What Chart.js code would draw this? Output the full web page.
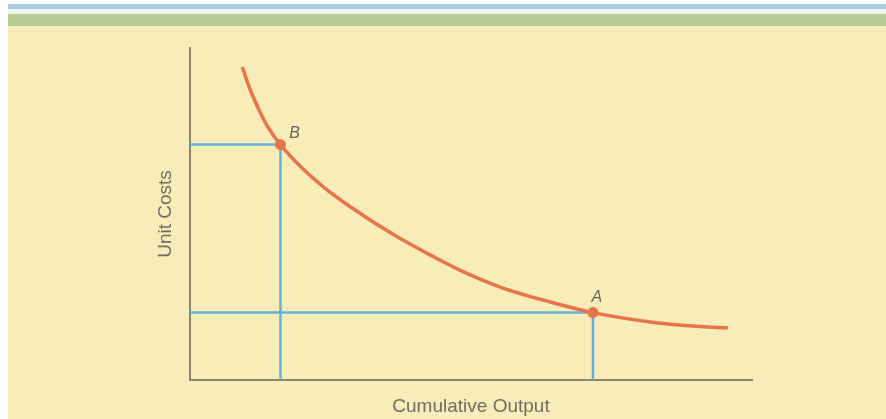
<!DOCTYPE html>
<html>
<head>
<meta charset="utf-8">
<script src="https://cdn.jsdelivr.net/npm/chart.js@4/dist/chart.umd.min.js"></script>
<style>
  html, body { margin: 0; padding: 0; background: #fff; }
</style>
</head>
<body>
<canvas id="chart" width="886" height="419"></canvas>
<script>
// experience curve (axes run 0..10, no ticks shown)
const curveX = [0.93, 1.07, 1.25, 1.39, 1.61, 1.99, 2.40, 2.85, 3.68, 4.27, 4.80, 5.52, 6.41, 7.17, 8.19, 9.07, 9.57];
const curveY = [9.43, 8.75, 8.06, 7.61, 7.09, 6.39, 5.78, 5.22, 4.32, 3.77, 3.31, 2.80, 2.35, 2.03, 1.75, 1.61, 1.57];
const pointNames = ["B", "A"];
const pointX = [1.61, 7.17];
const pointY = [7.09, 2.03];
const xTitle = "Cumulative Output";
const yTitle = "Unit Costs";

const orange = "#e7744b";
const blue = "#62b2da";
const axisColor = "#8c846e";
const textColor = "#716d62";

// panel background with the two bands at the top
const panelBg = {
  id: "panelBg",
  beforeDraw(chart) {
    const { ctx, width, height } = chart;
    ctx.save();
    ctx.fillStyle = "#ffffff";
    ctx.fillRect(0, 0, width, height);
    ctx.fillStyle = "#a9cce0";
    ctx.fillRect(8, 4, width - 8, 5);
    ctx.fillStyle = "#eef4f2";
    ctx.fillRect(8, 9, width - 8, 5);
    ctx.fillStyle = "#b8cc95";
    ctx.fillRect(8, 14, width - 8, 12);
    ctx.fillStyle = "#f8ecb8";
    ctx.fillRect(8, 26, width - 8, height - 26);
    ctx.restore();
  },
};

// italic letters next to the two marked points
const pointLabels = {
  id: "pointLabels",
  afterDatasetsDraw(chart) {
    const { ctx, scales } = chart;
    const offsets = [[14, -11], [4, -15]];
    ctx.save();
    ctx.font = "italic 16px 'Liberation Sans'";
    ctx.fillStyle = "#66635a";
    ctx.textAlign = "center";
    ctx.textBaseline = "middle";
    pointNames.forEach((name, i) => {
      const px = scales.x.getPixelForValue(pointX[i]);
      const py = scales.y.getPixelForValue(pointY[i]);
      ctx.fillText(name, px + offsets[i][0], py + offsets[i][1]);
    });
    ctx.restore();
  },
};

const curve = curveX.map((x, i) => ({ x, y: curveY[i] }));
const markers = pointX.map((x, i) => ({ x, y: pointY[i] }));
const guides = pointX.map((x, i) => [
  { x: 0, y: pointY[i] },
  { x, y: pointY[i] },
  { x, y: 0 },
]);

new Chart(document.getElementById("chart"), {
  type: "scatter",
  data: {
    datasets: [
      {
        data: markers,
        pointRadius: 5.5,
        pointBackgroundColor: orange,
        pointBorderWidth: 0,
        showLine: false,
        clip: false,
      },
      {
        data: curve,
        showLine: true,
        borderColor: orange,
        borderWidth: 3.5,
        pointRadius: 0,
        cubicInterpolationMode: "monotone",
        clip: false,
      },
      ...guides.map((g) => ({
        data: g,
        showLine: true,
        borderColor: blue,
        borderWidth: 2.5,
        pointRadius: 0,
        tension: 0,
        clip: false,
      })),
    ],
  },
  options: {
    responsive: false,
    animation: false,
    events: [],
    layout: { padding: { left: 150, right: 134, top: 48, bottom: 0 } },
    plugins: {
      legend: { display: false },
      tooltip: { enabled: false },
    },
    scales: {
      x: {
        type: "linear",
        min: 0,
        max: 10,
        grid: { display: false },
        ticks: { display: false },
        border: { color: axisColor, width: 2 },
        title: {
          display: true,
          text: xTitle,
          color: textColor,
          font: { family: "Liberation Sans", size: 19 },
          padding: { top: 0, bottom: 1 },
        },
        afterFit: (s) => { s.height = 39; },
      },
      y: {
        type: "linear",
        min: 0,
        max: 10,
        grid: { display: false },
        ticks: { display: false },
        border: { color: axisColor, width: 2 },
        title: {
          display: true,
          text: yTitle,
          color: textColor,
          font: { family: "Liberation Sans", size: 19 },
          padding: { top: 4, bottom: 0 },
        },
        afterFit: (s) => { s.width = 40; },
      },
    },
  },
  plugins: [panelBg, pointLabels],
});
</script>
</body>
</html>
